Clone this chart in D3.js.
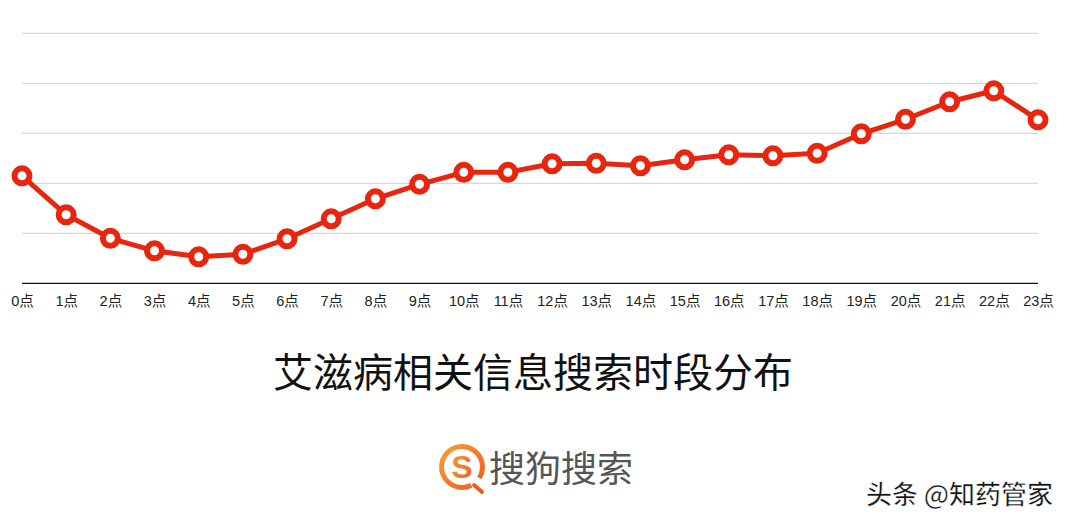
<!DOCTYPE html>
<html>
<head>
<meta charset="utf-8">
<script src="https://cdn.jsdelivr.net/npm/d3@7"></script>
<style>
  html, body { margin: 0; padding: 0; background: #fff; }
  svg text { font-family: "Liberation Sans", "Noto Sans CJK SC", sans-serif; }
</style>
</head>
<body>
<script>
// hours of the day and relative search volume
var hours = ["0点","1点","2点","3点","4点","5点","6点","7点","8点","9点","10点","11点",
             "12点","13点","14点","15点","16点","17点","18点","19点","20点","21点","22点","23点"];
var volume = [2.15, 1.37, 0.90, 0.65, 0.53, 0.58, 0.89, 1.29, 1.69, 1.98, 2.22, 2.22,
              2.39, 2.40, 2.35, 2.47, 2.57, 2.55, 2.60, 2.99, 3.28, 3.63, 3.85, 3.27];
var gridTicks = [0, 1, 2, 3, 4, 5];
var title = "艾滋病相关信息搜索时段分布";
var brand = "搜狗搜索";
var watermark = "头条 @知药管家";

var w = 1067;
var h = 524;
var red = "#e8250f";

var svg = d3.select("body").append("svg")
  .attr("width", w)
  .attr("height", h);

var x = d3.scalePoint()
  .domain(hours)
  .range([22, 1038]);

var y = d3.scaleLinear()
  .domain([0, 5])
  .range([283.3, 33.3]);

// horizontal grid
svg.append("g")
  .selectAll("line")
  .data(gridTicks)
  .enter()
    .append("line")
    .attr("x1", 22)
    .attr("x2", 1038)
    .attr("y1", (d) => y(d))
    .attr("y2", (d) => y(d))
    .attr("stroke", (d) => d === 0 ? "#111" : "#cfcfcf")
    .attr("stroke-width", (d) => d === 0 ? 1.3 : 1);

// x labels via axis, domain line hidden
var xAxis = svg.append("g")
  .attr("transform", "translate(0," + y(0) + ")")
  .call(d3.axisBottom(x).tickSize(0).tickPadding(12));
xAxis.select(".domain").remove();
xAxis.selectAll("text")
  .attr("font-size", 14.5)
  .attr("fill", "#222");

var line = d3.line()
  .x((d, i) => x(hours[i]))
  .y((d) => y(d));

svg.append("path")
  .datum(volume)
  .attr("d", line)
  .attr("fill", "none")
  .attr("stroke", red)
  .attr("stroke-width", 5)
  .attr("stroke-linejoin", "round");

svg.append("g")
  .selectAll("circle")
  .data(volume)
  .enter()
    .append("circle")
    .attr("cx", (d, i) => x(hours[i]))
    .attr("cy", (d) => y(d))
    .attr("r", 7.5)
    .attr("fill", "#fff")
    .attr("stroke", red)
    .attr("stroke-width", 6);

// title
svg.append("text")
  .attr("x", 533)
  .attr("y", 387)
  .attr("text-anchor", "middle")
  .attr("font-size", 40)
  .attr("fill", "#111")
  .style("font-family", "'Noto Sans CJK SC', sans-serif")
  .text(title);

// sogou logo
var defs = svg.append("defs");
var grad = defs.append("linearGradient")
  .attr("id", "orange")
  .attr("x1", "0%").attr("y1", "0%")
  .attr("x2", "100%").attr("y2", "100%");
grad.append("stop").attr("offset", "0%").attr("stop-color", "#f8a23a");
grad.append("stop").attr("offset", "100%").attr("stop-color", "#ee5a1c");

var logo = svg.append("g").attr("transform", "translate(462,467)");
logo.append("path")
  .attr("d", d3.arc()({innerRadius: 18, outerRadius: 23,
                       startAngle: Math.PI * 0.85, endAngle: Math.PI * 2.68}))
  .attr("fill", "url(#orange)");
logo.append("line")
  .attr("x1", 12).attr("y1", 18)
  .attr("x2", 20).attr("y2", 25)
  .attr("stroke", "#ee5a1c")
  .attr("stroke-width", 4)
  .attr("stroke-linecap", "round");
logo.append("text")
  .attr("x", 0)
  .attr("y", 11)
  .attr("text-anchor", "middle")
  .attr("font-size", 32)
  .attr("font-weight", "bold")
  .attr("fill", "url(#orange)")
  .style("font-family", "'Liberation Sans', sans-serif")
  .text("S");

svg.append("text")
  .attr("x", 489)
  .attr("y", 482)
  .attr("font-size", 36)
  .attr("fill", "#555")
  .style("font-family", "'Noto Sans CJK SC', sans-serif")
  .text(brand);

// watermark
svg.append("text")
  .attr("x", 1053)
  .attr("y", 504)
  .attr("text-anchor", "end")
  .attr("font-size", 26)
  .attr("font-weight", 500)
  .attr("fill", "#111")
  .attr("stroke", "#fff")
  .attr("stroke-width", 0.5)
  .style("font-family", "'Noto Sans CJK SC', sans-serif")
  .text(watermark);
</script>
</body>
</html>
